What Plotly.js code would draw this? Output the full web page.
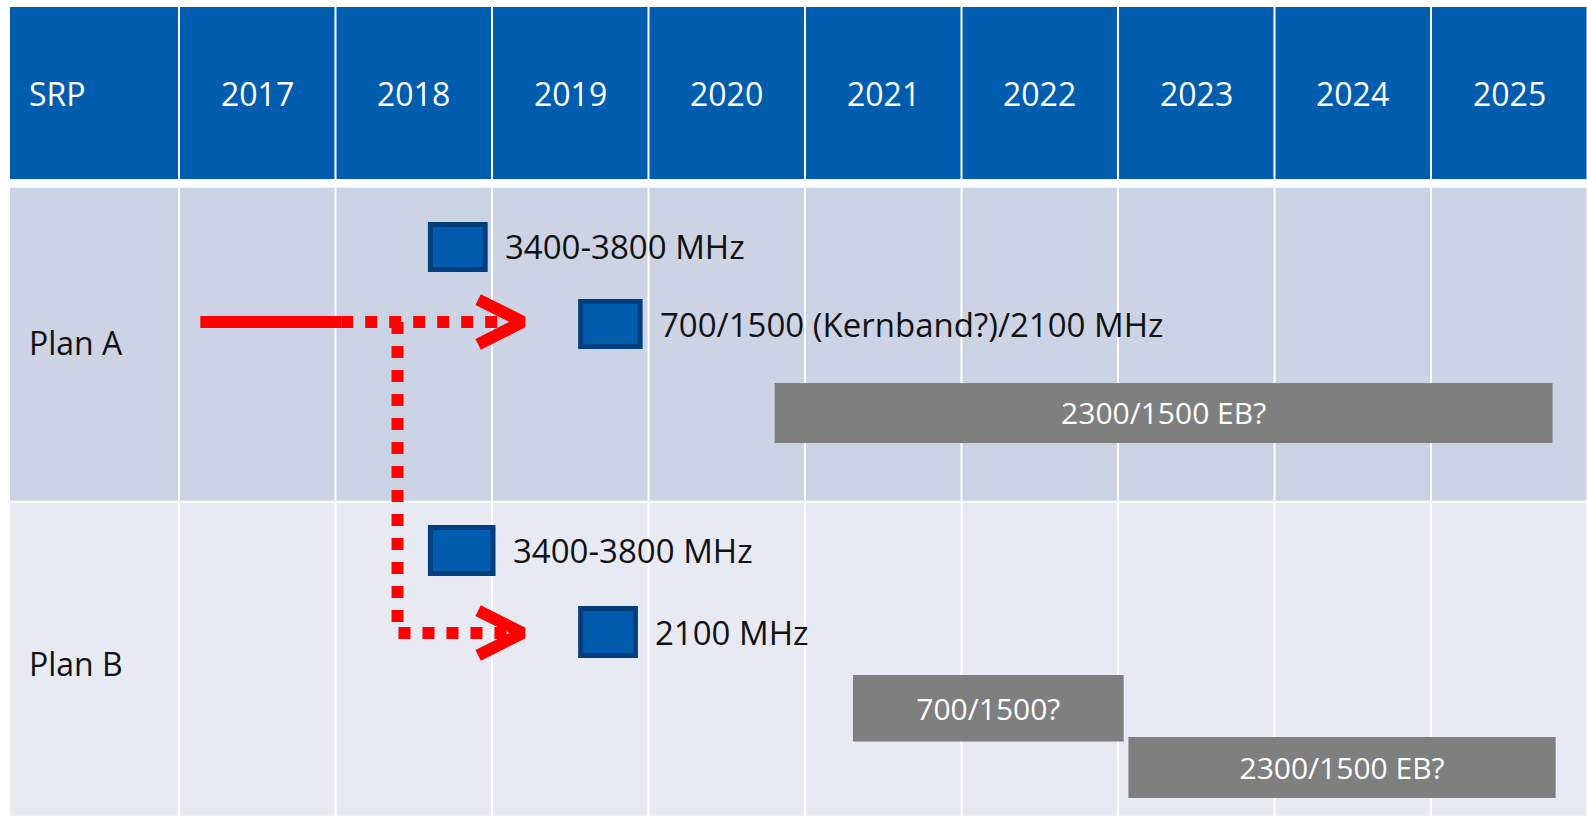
<!DOCTYPE html>
<html><head><meta charset="utf-8">
<script src="https://cdn.plot.ly/plotly-3.0.1.min.js"></script>
<style>html,body{margin:0;padding:0;background:#fff;overflow:hidden}</style>
</head><body><div id="chart" style="width:1587px;height:817px"></div>
<script>
// ---------------- data ----------------
const cornerLabel = "SRP";
const years = [2017, 2018, 2019, 2020, 2021, 2022, 2023, 2024, 2025];
const rowLabels = ["Plan A", "Plan B"];

// frequency items (start / end in years)
const itemLabels = ["3400-3800 MHz", "700/1500 (Kernband?)/2100 MHz", "2300/1500 EB?",
                    "3400-3800 MHz", "2100 MHz", "700/1500?", "2300/1500 EB?"];
const itemRows  = [0, 0, 0, 1, 1, 1, 1];
const itemStart = [2018.60, 2019.56, 2020.80, 2018.60, 2019.56, 2021.30, 2023.06];
const itemEnd   = [2018.95, 2019.94, 2025.77, 2019.00, 2019.91, 2023.03, 2025.79];
const itemKind  = ["auction", "auction", "extension", "auction", "auction", "extension", "extension"];

// transition arrow (years)
const arrowSolidFrom = 2017.13;
const arrowDashFrom  = 2018.03;
const arrowBranch    = 2018.39;
const arrowTip       = 2019.19;

// ---------------- layout constants ----------------
const W = 1587, H = 817;
const PX_YEAR = 156.5, YEAR0_PX = 180;
const PX_ROW = 315, ROW0_PX = 186.5;
const xRange = [years[0] - YEAR0_PX / PX_YEAR, years[0] + (W - YEAR0_PX) / PX_YEAR];
const yRange = [(H - ROW0_PX) / PX_ROW, -ROW0_PX / PX_ROW];
const gapX = 2 / PX_YEAR;
const labelColLeft = years[0] - 170 / PX_YEAR;
const labelTextX = years[0] - 153 / PX_YEAR;
const headerTop = (7 - ROW0_PX) / PX_ROW, headerBottom = (179 - ROW0_PX) / PX_ROW;
const headerMid = (93.5 - ROW0_PX) / PX_ROW;
const rowLabelMid = [0.496, 0.5127];
const laneCenter = [0.192, 0.4365, 0.719, 0.1556, 0.4143, 0.6563, 0.8444];
const laneHeight = [0.143, 0.143, 0.1905, 0.146, 0.149, 0.211, 0.194];
const arrowLane = [0.430, 0.4175];
const chevBack = 0.285, chevSpread = 0.071;

const BLUE = "#005DAE", BLUE_DARK = "#003E7E";
const ROW_BG = ["#CCD3E4", "#E7EAF3"];
const GREY = "#7F7F7F", RED = "#FF0000";
const MAIN_FONT = "'Open Sans', 'Noto Sans', sans-serif";
const NARROW_FONT = "'Liberation Sans Narrow', 'Arial Narrow', 'Open Sans', sans-serif";

// ---------------- grid cells ----------------
const shapes = [];
const annotations = [];
const colSpans = [[labelColLeft, years[0] - gapX]].concat(years.map(y => [y, y + 1 - gapX]));
colSpans.forEach(([a, b]) => {
  shapes.push({type: "rect", xref: "x", yref: "y", x0: a, x1: b, y0: headerTop, y1: headerBottom,
               fillcolor: BLUE, line: {width: 0}, layer: "below"});
  rowLabels.forEach((r, i) => {
    shapes.push({type: "rect", xref: "x", yref: "y", x0: a, x1: b, y0: i + 0.004, y1: i + 0.998,
                 fillcolor: ROW_BG[i], line: {width: 0}, layer: "below"});
  });
});

annotations.push({x: labelTextX, y: headerMid, xref: "x", yref: "y", text: cornerLabel, showarrow: false,
                  xanchor: "left", yanchor: "middle", font: {family: MAIN_FONT, size: 32, color: "#fff"}});
years.forEach(y => {
  annotations.push({x: y + (1 - gapX) / 2, y: headerMid, xref: "x", yref: "y", text: String(y), showarrow: false,
                    xanchor: "center", yanchor: "middle", font: {family: MAIN_FONT, size: 32, color: "#fff"}});
});
rowLabels.forEach((r, i) => {
  annotations.push({x: labelTextX, y: i + rowLabelMid[i], xref: "x", yref: "y", text: r, showarrow: false,
                    xanchor: "left", yanchor: "middle", font: {family: MAIN_FONT, size: 32, color: "#111"}});
});

// ---------------- items ----------------
function pick(kind) {
  const idx = itemKind.map((k, i) => k === kind ? i : -1).filter(i => i >= 0);
  return {
    idx,
    y: idx.map(i => itemRows[i] + laneCenter[i]),
    base: idx.map(i => itemStart[i]),
    len: idx.map(i => itemEnd[i] - itemStart[i]),
    width: idx.map(i => laneHeight[i]),
    text: idx.map(i => itemLabels[i])
  };
}
const sq = pick("auction");
const ext = pick("extension");

const traces = [];
traces.push({type: "bar", orientation: "h", y: ext.y, x: ext.len, base: ext.base, width: ext.width,
  marker: {color: GREY, line: {width: 0}}, text: ext.text, textposition: "inside",
  insidetextanchor: "middle", textangle: 0, constraintext: "none",
  textfont: {family: NARROW_FONT, size: 30, color: "#ffffff"}, hoverinfo: "skip"});
traces.push({type: "bar", orientation: "h", y: sq.y, x: sq.len, base: sq.base, width: sq.width,
  marker: {color: BLUE, line: {width: 5, color: BLUE_DARK}}, hoverinfo: "skip"});

sq.idx.forEach((i, k) => {
  annotations.push({x: itemEnd[i], y: sq.y[k], xref: "x", yref: "y", text: itemLabels[i], showarrow: false,
                    xanchor: "left", yanchor: "middle", xshift: 18,
                    font: {family: MAIN_FONT, size: 33, color: "#111"}});
});

// ---------------- arrows ----------------
const yA = arrowLane[0], yB = 1 + arrowLane[1];
traces.push({type: "scatter", mode: "lines", x: [arrowSolidFrom, arrowDashFrom], y: [yA, yA],
  line: {color: RED, width: 12}, hoverinfo: "skip"});
traces.push({type: "scatter", mode: "lines", x: [arrowDashFrom, arrowTip - 0.06], y: [yA, yA],
  line: {color: RED, width: 12, dash: "12px,12px"}, hoverinfo: "skip"});
traces.push({type: "scatter", mode: "lines", x: [arrowBranch, arrowBranch, arrowTip - 0.06], y: [yA, yB, yB],
  line: {color: RED, width: 12, dash: "12px,12px"}, hoverinfo: "skip"});
traces.push({type: "scatter", mode: "lines",
  x: [arrowTip - chevBack, arrowTip, arrowTip - chevBack, null, arrowTip - chevBack, arrowTip, arrowTip - chevBack],
  y: [yA - chevSpread, yA, yA + chevSpread, null, yB - chevSpread, yB, yB + chevSpread],
  line: {color: RED, width: 12}, hoverinfo: "skip"});

const layout = {
  width: W, height: H, margin: {l: 0, r: 0, t: 0, b: 0, pad: 0},
  paper_bgcolor: "#ffffff", plot_bgcolor: "#ffffff",
  showlegend: false, hovermode: false, barmode: "overlay",
  xaxis: {range: xRange, visible: false, fixedrange: true},
  yaxis: {range: yRange, visible: false, fixedrange: true},
  shapes, annotations
};
Plotly.newPlot("chart", traces, layout, {staticPlot: true, displayModeBar: false});
</script></body></html>
